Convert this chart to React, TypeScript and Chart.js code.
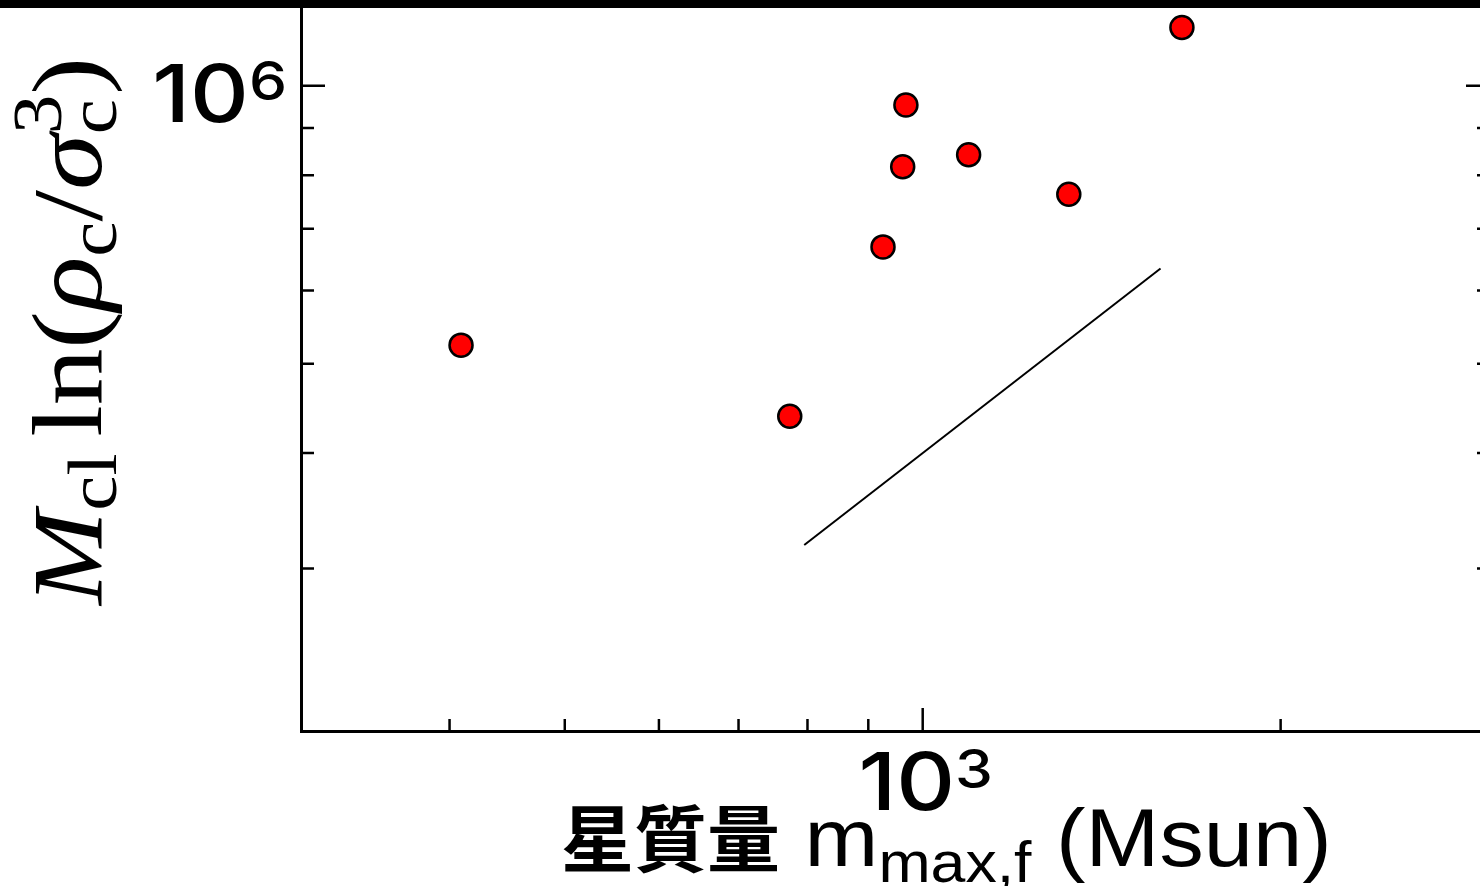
import React, { useEffect, useRef } from 'react';
import { Chart, registerables } from 'chart.js';

Chart.register(...registerables);

// ---- data ----
const clusterMass = [409, 773, 926, 962, 968, 1093, 1327, 1652];
const clusterQty = [523600, 438600, 669000, 817000, 953000, 842000, 763000, 1156000];
const guideMass = [795, 1585];
const guideQty = [318000, 634000];
const xAxisRange = [300, 3000];
const yAxisRange = [200000, 1220000];
const xLabelTicks = [1000];
const xLabelExps = ['3'];
const yLabelTicks = [1000000];
const yLabelExps = ['6'];

const CANVAS_W = 1500;
const CANVAS_H = 886;

type Run = { t: string; font: string; dy?: number; adv?: boolean; sx?: number };

function runW(ctx: CanvasRenderingContext2D, r: Run) {
  ctx.font = r.font;
  return ctx.measureText(r.t).width * (r.sx || 1);
}

function runsWidth(ctx: CanvasRenderingContext2D, runs: Run[]) {
  let w = 0;
  for (const r of runs) if (r.adv !== false) w += runW(ctx, r);
  return w;
}

function drawRuns(ctx: CanvasRenderingContext2D, runs: Run[], x0: number, y0: number) {
  let x = x0;
  for (const r of runs) {
    ctx.font = r.font;
    const sx = r.sx || 1;
    ctx.save();
    ctx.translate(x, y0 + (r.dy || 0));
    ctx.scale(sx, 1);
    ctx.fillText(r.t, 0, 0);
    ctx.restore();
    if (r.adv !== false) x += runW(ctx, r);
  }
  return x;
}

const isPow10 = (v: number) => Math.abs(Math.log10(v) - Math.round(Math.log10(v))) < 1e-6;
const isNice = (v: number) => {
  const e = Math.floor(Math.log10(v) + 1e-9);
  const m = v / Math.pow(10, e);
  return Math.abs(m - Math.round(m)) < 1e-6;
};

const NUM_FONT = '"Inter", "Noto Sans", sans-serif';

const decorPlugin = {
  id: 'decor',
  afterDraw(chart: any) {
    const ctx: CanvasRenderingContext2D = chart.ctx;
    const { left, right, top, bottom } = chart.chartArea;
    const xs = chart.scales.x;
    const ys = chart.scales.y;
    ctx.save();
    ctx.strokeStyle = '#000';
    ctx.fillStyle = '#000';
    ctx.lineWidth = 2.5;
    ctx.lineCap = 'butt';

    // inward ticks
    xs.ticks.forEach((t: any) => {
      const v = t.value;
      if (!isNice(v)) return;
      const px = xs.getPixelForValue(v);
      if (px <= left + 2 || px >= right - 2) return;
      const len = isPow10(v) ? 23 : 12;
      ctx.beginPath();
      ctx.moveTo(px, bottom);
      ctx.lineTo(px, bottom - len);
      ctx.stroke();
    });
    ys.ticks.forEach((t: any) => {
      const v = t.value;
      if (!isNice(v)) return;
      const py = ys.getPixelForValue(v);
      if (py >= bottom - 2 || py <= top + 2) return;
      const len = isPow10(v) ? 24 : 13;
      ctx.beginPath();
      ctx.moveTo(left, py);
      ctx.lineTo(left + len, py);
      ctx.moveTo(right, py);
      ctx.lineTo(right - len, py);
      ctx.stroke();
    });

    // tick labels 10^n
    ctx.textBaseline = 'alphabetic';
    ctx.textAlign = 'left';
    const numSx = 1.14;
    xLabelTicks.forEach((v, i) => {
      const px = xs.getPixelForValue(v);
      const runs: Run[] = [
        { t: '10', font: `500 80px ${NUM_FONT}`, sx: numSx },
        { t: xLabelExps[i], font: `500 53px ${NUM_FONT}`, dy: -22, sx: numSx },
      ];
      const w = runsWidth(ctx, runs);
      drawRuns(ctx, runs, px - w / 2 + 3, bottom + 79);
    });
    yLabelTicks.forEach((v, i) => {
      const py = ys.getPixelForValue(v);
      const runs: Run[] = [
        { t: '10', font: `500 80px ${NUM_FONT}`, sx: numSx },
        { t: yLabelExps[i], font: `500 53px ${NUM_FONT}`, dy: -22, sx: numSx },
      ];
      const w = runsWidth(ctx, runs);
      drawRuns(ctx, runs, left - 14 - w, py + 36);
    });

    // x axis title
    const sans = '"Liberation Sans", Arial, sans-serif';
    const lsx = 1.08;
    const xRuns: Run[] = [
      { t: '星質量', font: 'bold 73px "Noto Sans CJK JP", sans-serif' },
      { t: ' m', font: `82px ${sans}`, sx: lsx },
      { t: 'max,f', font: `58px ${sans}`, dy: 16, sx: lsx },
      { t: ' (Msun)', font: `82px ${sans}`, sx: lsx },
    ];
    drawRuns(ctx, xRuns, 561, 866);

    // y axis title (rotated)
    const serif = '"Liberation Serif", "DejaVu Serif", serif';
    const big = `100px ${serif}`;
    const bigI = `italic 100px ${serif}`;
    const small = `70px ${serif}`;
    const yRuns: Run[] = [
      { t: 'M', font: bigI },
      { t: 'cl', font: small, dy: 15 },
      { t: ' ', font: `60px ${serif}` },
      { t: 'ln', font: big },
      { t: '(', font: big },
      { t: 'ρ', font: bigI },
      { t: 'c', font: small, dy: 15 },
      { t: '/', font: big },
      { t: 'σ', font: bigI },
      { t: 'c', font: small, dy: 15, adv: false },
      { t: '3', font: small, dy: -40 },
      { t: ')', font: big },
    ];
    const yw = runsWidth(ctx, yRuns);
    ctx.save();
    ctx.translate(101, 605);
    ctx.rotate(-Math.PI / 2);
    ctx.scale(548 / yw, 1);
    drawRuns(ctx, yRuns, 0, 0);
    ctx.restore();

    // top band
    ctx.fillRect(0, 0, chart.width, 8);
    ctx.restore();
  },
};

export default function App() {
  const ref = useRef<HTMLCanvasElement | null>(null);
  useEffect(() => {
    if (!ref.current) return;
    const chart = new Chart(ref.current, {
      type: 'scatter',
      data: {
        datasets: [
          {
            type: 'scatter',
            data: clusterMass.map((x, i) => ({ x, y: clusterQty[i] })),
            pointRadius: 11.5,
            pointBackgroundColor: '#ff0000',
            pointBorderColor: '#000000',
            pointBorderWidth: 2.5,
            order: 0,
          } as any,
          {
            type: 'line',
            data: guideMass.map((x, i) => ({ x, y: guideQty[i] })),
            borderColor: '#000000',
            borderWidth: 2,
            pointRadius: 0,
            fill: false,
            order: 1,
          } as any,
        ],
      },
      options: {
        animation: false,
        responsive: false,
        devicePixelRatio: 1,
        layout: { autoPadding: false, padding: { left: 0, right: 10, top: 6, bottom: 0 } },
        plugins: { legend: { display: false }, tooltip: { enabled: false } },
        scales: {
          x: {
            type: 'logarithmic',
            min: xAxisRange[0],
            max: xAxisRange[1],
            ticks: { display: false },
            grid: { display: false, drawTicks: false },
            border: { display: true, color: '#000', width: 3 },
            afterFit: (s: any) => {
              s.height = 155;
            },
          },
          y: {
            type: 'logarithmic',
            min: yAxisRange[0],
            max: yAxisRange[1],
            ticks: { display: false },
            grid: { display: false, drawTicks: false },
            border: { display: true, color: '#000', width: 3 },
            afterFit: (s: any) => {
              s.width = 301;
            },
          },
        },
      } as any,
      plugins: [decorPlugin],
    });
    return () => chart.destroy();
  }, []);

  return (
    <div
      style={{
        position: 'fixed',
        left: 0,
        top: 0,
        width: 1480,
        height: 886,
        overflow: 'hidden',
        background: '#ffffff',
      }}
    >
      <canvas
        ref={ref}
        width={CANVAS_W}
        height={CANVAS_H}
        style={{ width: CANVAS_W, height: CANVAS_H, display: 'block' }}
      />
    </div>
  );
}
